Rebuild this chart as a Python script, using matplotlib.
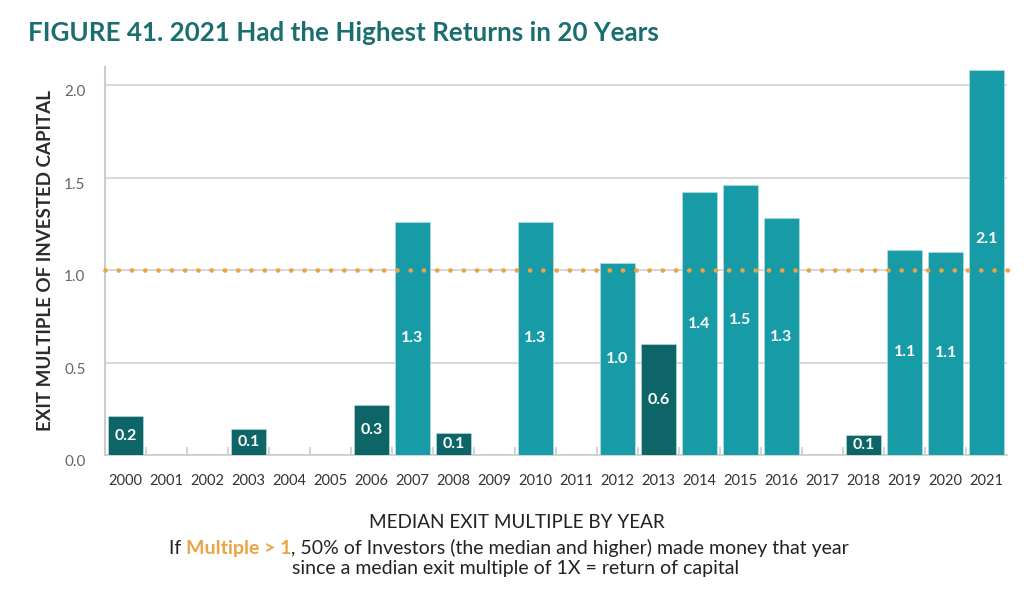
import matplotlib
matplotlib.use("Agg")
import matplotlib.pyplot as plt

# data
years = [str(y) for y in range(2000, 2022)]
multiples = [0.21, 0, 0, 0.14, 0, 0, 0.27, 1.26, 0.12, 0, 1.26, 0,
             1.04, 0.60, 1.42, 1.46, 1.28, 0, 0.11, 1.11, 1.10, 2.08]
y_ticks = [0.0, 0.5, 1.0, 1.5, 2.0]

DARK = "#0e6567"
LIGHT = "#179ba6"
ORANGE = "#e9a444"
TITLE = "#1b6e6f"

plt.rcParams['font.family'] = ['Lato', 'DejaVu Sans']

fig = plt.figure(figsize=(10.24, 5.94), dpi=100)
ax = fig.add_axes([0.1025, 0.234, 0.881, 0.654])

x = list(range(len(years)))
colors = [LIGHT if v >= 1 else DARK for v in multiples]
ax.bar(x, multiples, width=0.85, color=colors, edgecolor="#bfe3e6", linewidth=0.4, zorder=3)

# value labels, white, centred in the bar (moved up if they would sit on the 1x line)
for xi, v in zip(x, multiples):
    if v <= 0:
        continue
    ypos = v / 2
    if abs(ypos - 1) < 0.1:
        ypos += 0.13
    ax.text(xi, ypos, f"{v:.1f}", ha="center", va="center", color="white",
            fontsize=11.5, fontweight="bold", zorder=4)

# 1x reference line, dotted orange
ax.plot([-0.5, 21.7], [1, 1], color=ORANGE, lw=3.4, dashes=(0.01, 2.8),
        dash_capstyle="round", clip_on=False, zorder=5)

ax.set_xlim(-0.5, 21.5)
ax.set_ylim(0, 2.1)
ax.set_yticks(y_ticks)
ax.set_yticklabels([f"{t:.1f}" for t in y_ticks], color="#666666", fontsize=11, va="top")
ax.tick_params(axis="y", length=0, pad=14)
ax.yaxis.grid(True, color="#d9d9d9", lw=1.5, zorder=0)
ax.set_axisbelow(True)

ax.set_xticks(x)
ax.set_xticklabels(years, fontsize=10.5, color="#333333")
ax.tick_params(axis="x", length=0, pad=14)
ax.set_xticks([i + 0.5 for i in x[:-1]], minor=True)
ax.tick_params(axis="x", which="minor", direction="in", length=6, color="#cccccc", width=1.2)

for s in ["top", "right"]:
    ax.spines[s].set_visible(False)
ax.spines["left"].set_color("#cccccc")
ax.spines["left"].set_linewidth(1.5)
ax.spines["bottom"].set_color("#cccccc")
ax.spines["bottom"].set_linewidth(1.2)

ax.set_ylabel("EXIT MULTIPLE OF INVESTED CAPITAL", fontsize=13.5, fontweight="bold",
              color="#2b2b2b", labelpad=7)

fig.text(0.027, 0.945, "FIGURE 41. 2021 Had the Highest Returns in 20 Years",
         fontsize=18.7, fontweight="bold", color=TITLE, va="center")

fig.text(0.505, 0.121, "MEDIAN EXIT MULTIPLE BY YEAR", ha="center", va="center",
         fontsize=13.6, color="#222222")

# second caption line with the orange highlighted part
parts = [("If ", "#222222", "normal"),
         ("Multiple > 1", ORANGE, "bold"),
         (", 50% of Investors (the median and higher) made money that year", "#222222", "normal")]
fig.canvas.draw()
renderer = fig.canvas.get_renderer()
texts = []
for s, c, w in parts:
    t = fig.text(0, 0.077, s, fontsize=14, color=c, fontweight=w, va="center")
    texts.append(t)
widths = [t.get_window_extent(renderer).width for t in texts]
total = sum(widths)
left = 0.497 * fig.bbox.width - total / 2
for t, w in zip(texts, widths):
    t.set_x(left / fig.bbox.width)
    left += w

fig.text(0.503, 0.043, "since a median exit multiple of 1X = return of capital", ha="center",
         va="center", fontsize=14, color="#222222")

fig.savefig("out.png", dpi=100)
